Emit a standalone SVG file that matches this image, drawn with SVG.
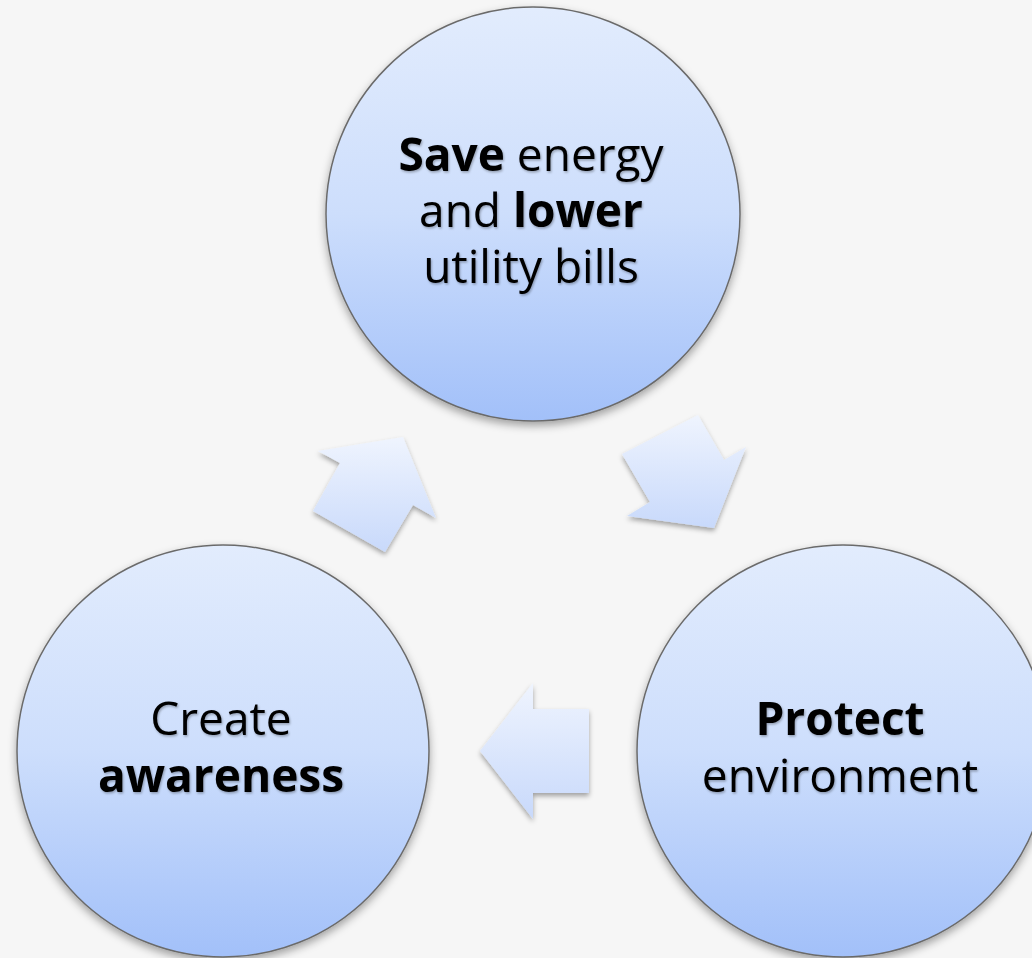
<svg xmlns="http://www.w3.org/2000/svg" width="1032" height="958" viewBox="0 0 1032 958">
  <defs>
    <linearGradient id="circFill" x1="0" y1="0" x2="0" y2="1">
      <stop offset="0" stop-color="#e2ecfd"/>
      <stop offset="0.5" stop-color="#cddefc"/>
      <stop offset="1" stop-color="#a2c0f9"/>
    </linearGradient>
    <linearGradient id="arrowFill" x1="0" y1="0" x2="0" y2="1">
      <stop offset="0" stop-color="#eff4fe"/>
      <stop offset="1" stop-color="#c8d9fb"/>
    </linearGradient>
    <filter id="circShadow" x="-10%" y="-10%" width="120%" height="125%">
      <feDropShadow dx="0" dy="4" stdDeviation="4" flood-color="#000" flood-opacity="0.35"/>
    </filter>
    <filter id="arrowShadow" x="-20%" y="-20%" width="140%" height="140%">
      <feDropShadow dx="0" dy="3" stdDeviation="2.5" flood-color="#000" flood-opacity="0.35"/>
    </filter>
    <filter id="textShadow" x="-5%" y="-10%" width="110%" height="130%">
      <feDropShadow dx="1" dy="1.5" stdDeviation="1.2" flood-color="#000" flood-opacity="0.3"/>
    </filter>
  </defs>
  <style>
    .circle { fill: url(#circFill); stroke: #6b6b6b; stroke-width: 1.5; filter: url(#circShadow); }
    .arrow { fill: url(#arrowFill); stroke: none; filter: url(#arrowShadow); }
    .label { font-family: "Open Sans", "DejaVu Sans", sans-serif; font-size: 46px; fill: #000; text-anchor: middle; filter: url(#textShadow); }
    .b { font-weight: bold; }
  </style>
  <rect x="0" y="0" width="1032" height="958" fill="#f6f6f6"/>

  <g id="connectors">
    <polygon id="arrow-top-right" class="arrow" points="698,415 724,460 746,447 714,528 627,516 650,502 622,454"/>
    <polygon id="arrow-bottom" class="arrow" points="480,751 533,683 533,709 589,709 589,793 533,793 533,819"/>
    <polygon id="arrow-left-up" class="arrow" points="403,437 436,518 413,505 385,552 313,511 340,463 318,451"/>
  </g>

  <g id="node-save">
    <circle class="circle" cx="533" cy="214" r="207"/>
    <text class="label" x="531" y="171"><tspan class="b">Save</tspan> energy</text>
    <text class="label" x="531" y="227">and <tspan class="b">lower</tspan></text>
    <text class="label" x="531" y="283">utility bills</text>
  </g>

  <g id="node-protect">
    <circle class="circle" cx="843" cy="751" r="206"/>
    <text class="label b" x="840" y="735">Protect</text>
    <text class="label" x="840" y="792">environment</text>
  </g>

  <g id="node-awareness">
    <circle class="circle" cx="223" cy="751" r="206"/>
    <text class="label" x="221" y="735">Create</text>
    <text class="label b" x="221" y="792">awareness</text>
  </g>
</svg>
